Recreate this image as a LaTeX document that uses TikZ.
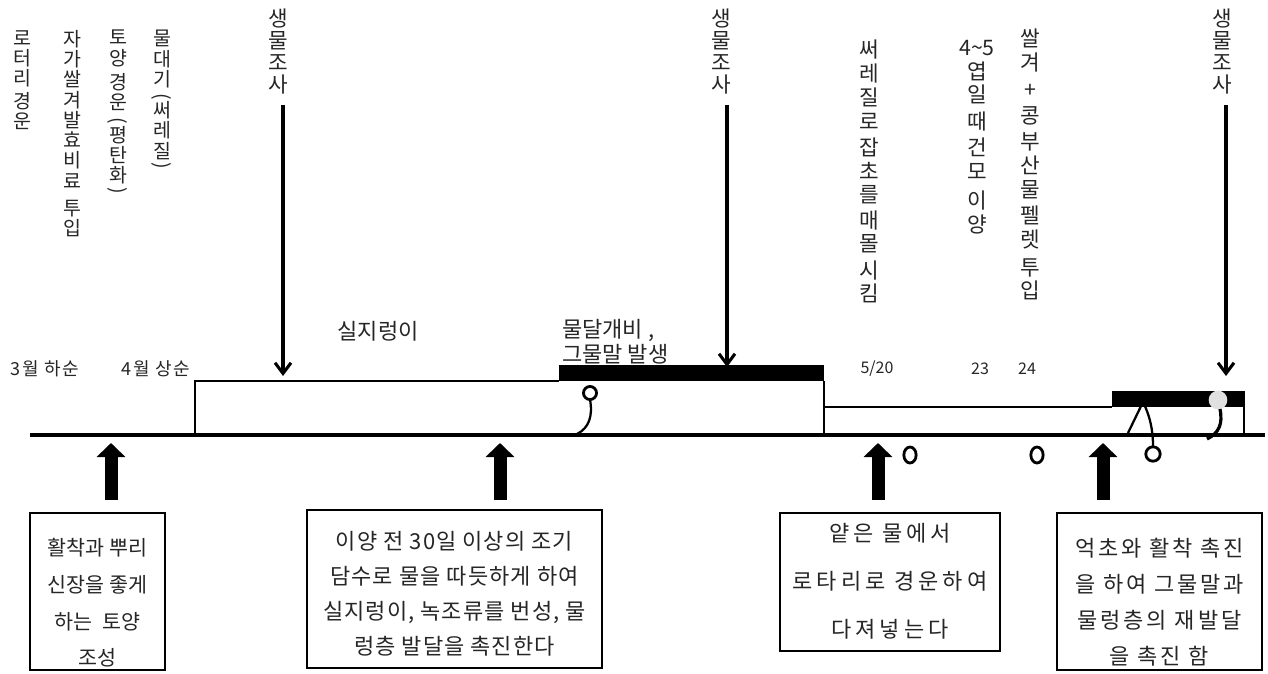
\documentclass[tikz,border=0pt]{standalone}
\usepackage{fontspec}
\usepackage{graphicx}
\setmainfont{Noto Sans CJK KR}
\usetikzlibrary{arrows.meta}
\newcommand{\vlp}{\rotatebox[origin=c]{-90}{(}}
\newcommand{\vrp}{\rotatebox[origin=c]{-90}{)}}
\begin{document}
\begin{tikzpicture}[x=0.75pt,y=-0.75pt,
  txt/.style={inner sep=0pt, text=black!85},
  vl/.style={txt, align=center, anchor=north, font=\fontsize{14.6pt}{15.2pt}\selectfont},
  vr/.style={txt, align=center, anchor=north, font=\fontsize{16pt}{17.8pt}\selectfont},
  vs/.style={txt, align=center, anchor=north, font=\fontsize{16pt}{16.5pt}\selectfont},
  lab/.style={txt, font=\fontsize{16.5pt}{19pt}\selectfont},
  datelab/.style={txt, font=\fontsize{12pt}{14pt}\selectfont},
  hdate/.style={txt, font=\fontsize{13.5pt}{14pt}\selectfont\addfontfeature{LetterSpace=8}},
  bx/.style={draw, line width=1.1pt, inner sep=0pt},
  bt/.style={txt, align=center},
  tl/.style={line width=1.1pt},
  downarr/.style={line width=2.3pt, -{Straight Barb[length=8pt,width=12pt]}},
  uparr/.style={line width=9.75pt, -{Triangle[length=10.5pt,width=21pt]}},
  ring/.style={line width=2.1pt},
  stem/.style={line width=1.7pt}]
\useasboundingbox (0,0) rectangle (1268,674);
\fill[white] (0,0) rectangle (1268,674);

% top vertical texts (left)
\node[vl] (c1) at (22,30) {로\\터\\리\\[2pt]경\\운};
\node[vl] (c2) at (72,30) {자\\가\\쌀\\겨\\발\\효\\비\\료\\[5pt]투\\입};
\node[vl] (c3) at (118,30) {토\\양\\[3pt]경\\운\\[-2pt]\vlp\\[-4pt]평\\탄\\화\\[-5pt]\vrp};
\node[vl] (c4) at (162,30) {물\\대\\기\\[-3pt]\vlp\\[-4pt]써\\레\\질\\[-5pt]\vrp};

% 생물조사 labels
\node[vs] (s1) at (278,9) {생\\물\\조\\사};
\node[vs] (s2) at (721,9) {생\\물\\조\\사};
\node[vs] (s3) at (1222,9) {생\\물\\조\\사};

% right vertical texts
\node[vr] (c5) at (869,40) {써\\레\\질\\로\\[2pt]잡\\초\\를\\[1pt]매\\몰\\[2pt]시\\킴};
\node[vr] (c6) at (977,40) {4\textasciitilde 5\\엽\\일\\[2pt]때\\[2pt]건\\모\\[4pt]이\\양};
\node[vr] (c7) at (1030,29) {쌀\\겨\\[2pt]+\\[2pt]콩\\[2pt]부\\산\\물\\[2pt]펠\\렛\\[3pt]투\\입};

% down arrows
\coordinate (s1a) at (283,105); \coordinate (s1b) at (283,376);
\coordinate (s2a) at (727,105); \coordinate (s2b) at (727,367);
\coordinate (s3a) at (1226,105); \coordinate (s3b) at (1226,376);
\draw[downarr] (s1a) -- (s1b);
\draw[downarr] (s2a) -- (s2b);
\draw[downarr] (s3a) -- (s3b);

% labels above the timeline
\node[hdate] (d1) at (45,369) {3월 하순};
\node[hdate] (d2) at (156,369) {4월 상순};
\node[lab] (l1) at (378,331) {실지렁이};
\node[lab, anchor=west] (l2) at (562,330) {물달개비 ,};
\node[lab, anchor=west] (l3) at (562,354) {그물말 발생};
\node[datelab] (d3) at (877,369) {5/20};
\node[datelab] (d4) at (980,369) {23};
\node[datelab] (d5) at (1027,369) {24};

% timeline boxes and bars
\draw[tl] (195,435) -- (195,381) -- (559,381);
\fill (559,365) rectangle (824,381);
\draw[tl] (824,381) -- (824,435);
\draw[tl] (824,407) -- (1112,407);
\fill (1112,391) rectangle (1245,407);
\draw[tl] (1244,407) -- (1244,435);

% base line
\coordinate (tL) at (30,435); \coordinate (tR) at (1265,435);
\draw[line width=2.6pt] (tL) -- (tR);

% rings and stems
\draw[ring] (590,393) circle[radius=4.9pt];
\draw[stem] (590,399.5) .. controls (593,416) and (589,428) .. (577,434);
\draw[ring] (910,455) ellipse[x radius=4.6pt, y radius=6pt];
\draw[ring] (1037,455) ellipse[x radius=4.6pt, y radius=6pt];
\draw[stem] (1128,433) -- (1143,402) .. controls (1150,416) and (1153,430) .. (1153,446);
\draw[ring] (1153,454) circle[radius=5.4pt];
\fill[black!12] (1218,400) circle[radius=7pt];
\draw[line width=2.4pt] (1220,409) .. controls (1223,424) and (1219,433) .. (1207,439);

% up arrows
\coordinate (u1b) at (111,500); \coordinate (u1t) at (111,443);
\coordinate (u2b) at (500,500); \coordinate (u2t) at (500,443);
\coordinate (u3b) at (878,500); \coordinate (u3t) at (878,443);
\coordinate (u4b) at (1103,500); \coordinate (u4t) at (1103,443);
\draw[uparr] (u1b) -- (u1t);
\draw[uparr] (u2b) -- (u2t);
\draw[uparr] (u3b) -- (u3t);
\draw[uparr] (u4b) -- (u4t);

% bottom boxes
\node[bx, minimum width=101.25pt, minimum height=117.75pt] (b1) at (97.5,591.5) {};
\node[bt, font=\fontsize{15.5pt}{27.5pt}\selectfont] (b1t) at (97.5,603) {활착과 뿌리\\신장을 좋게\\하는\ \ 토양\\조성};
\node[bx, minimum width=221.25pt, minimum height=118.5pt] (b2) at (454.5,589) {};
\node[bt, font=\fontsize{16.5pt}{26.25pt}\selectfont\addfontfeature{LetterSpace=5}] (b2t) at (454.5,594) {이양 전 30일 이상의 조기\\담수로 물을 따듯하게 하여\\실지렁이, 녹조류를 번성, 물\\렁층 발달을 촉진한다};
\node[bx, minimum width=165pt, minimum height=103.5pt] (b3) at (890,582) {};
\node[bt, font=\fontsize{16.5pt}{36pt}\selectfont\addfontfeature{LetterSpace=18}] (b3t) at (890,581) {얕은 물에서\\로타리로 경운하여\\다져넣는다};
\node[bx, minimum width=153.75pt, minimum height=117.75pt] (b4) at (1159.5,591.5) {};
\node[bt, font=\fontsize{16.5pt}{27pt}\selectfont\addfontfeature{LetterSpace=13}] (b4t) at (1159.5,602) {억초와 활착 촉진\\을 하여 그물말과\\물렁층의 재발달\\을 촉진 함};
\end{tikzpicture}
\end{document}
